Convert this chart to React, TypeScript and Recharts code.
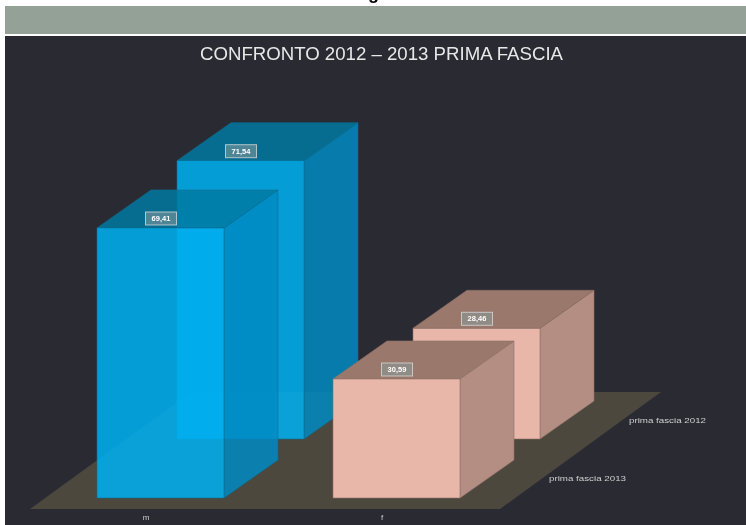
import { BarChart, Bar, XAxis, YAxis, Customized } from 'recharts'

const categories = ['m', 'f']
const values2012 = [71.54, 28.46]
const values2013 = [69.41, 30.59]
const seriesNames = ['prima fascia 2012', 'prima fascia 2013']

const chartData = categories.map((c, i) => ({ cat: c, y2012: values2012[i], y2013: values2013[i] }))

const DEPTH_X = 54
const DEPTH_Y = -38

const palette = [
  { front: '#00afef', frontOpacity: 0.87, side: '#008ac2', sideOpacity: 0.85, top: '#007aa2', topOpacity: 0.84, stroke: '#0a6f92' },
  { front: '#e9b6aa', frontOpacity: 1, side: '#b48e83', sideOpacity: 1, top: '#9a786c', topOpacity: 1, stroke: '#8d7268' },
]

const fmt = (v: number) => v.toFixed(2).replace('.', ',')

function Cube(props: any) {
  const { x, y, width, height, index, value, dx, dy } = props
  const c = palette[index]
  const l = x + dx
  const t = y + dy
  const r = l + width
  const b = t + height
  const v = Array.isArray(value) ? value[1] : value
  return (
    <g>
      <polygon points={`${r},${t} ${r + DEPTH_X},${t + DEPTH_Y} ${r + DEPTH_X},${b + DEPTH_Y} ${r},${b}`}
        fill={c.side} fillOpacity={c.sideOpacity} stroke={c.stroke} strokeWidth={0.6} />
      <polygon points={`${l},${t} ${l + DEPTH_X},${t + DEPTH_Y} ${r + DEPTH_X},${t + DEPTH_Y} ${r},${t}`}
        fill={c.top} fillOpacity={c.topOpacity} stroke={c.stroke} strokeWidth={0.6} />
      <rect x={l} y={t} width={width} height={height} fill={c.front} fillOpacity={c.frontOpacity}
        stroke={c.stroke} strokeWidth={0.6} />
      <rect x={l + width / 2 - 15} y={t - 16} width={31} height={13} fill="#8a9a9c" fillOpacity={0.55}
        stroke="#d5dadb" strokeOpacity={0.8} />
      <text x={l + width / 2 + 0.5} y={t - 7} textAnchor="middle" fontSize={7.5} fontWeight="bold"
        fontFamily="Liberation Sans" fill="#ffffff">{fmt(v)}</text>
    </g>
  )
}

function Floor() {
  return (
    <g>
      <polygon points="30,509 500,509 661,392 191,392" fill="#4c483e" />
      <text x={629} y={423} fontSize={8} textLength={77} lengthAdjust="spacingAndGlyphs"
        fontFamily="Liberation Sans" fill="#cfcfcf">{seriesNames[0]}</text>
      <text x={549} y={481} fontSize={8} textLength={77} lengthAdjust="spacingAndGlyphs"
        fontFamily="Liberation Sans" fill="#cfcfcf">{seriesNames[1]}</text>
    </g>
  )
}

export default function App() {
  return (
    <div style={{ position: 'absolute', left: 0, top: 0, width: 746, height: 525, background: '#fff', overflow: 'hidden', filter: 'blur(0.4px)' }}>
      <div style={{ position: 'absolute', left: 5, top: 6, width: 741, height: 28, background: '#93a197' }} />
      <div style={{ position: 'absolute', left: 5, top: 36, width: 741, height: 489, background: '#2a2a33' }} />
      <div style={{ position: 'absolute', left: 368, top: -17, fontFamily: 'Liberation Sans', fontWeight: 'bold', fontSize: 18, color: '#000' }}>g</div>
      <div style={{ position: 'absolute', left: 0, top: 0 }}>
        <BarChart width={746} height={525} data={chartData} barSize={127} barGap={-127}
          margin={{ top: 109, right: 232, bottom: 0, left: 42 }}>
          <text x={200} y={60} fontSize={18} textLength={363} lengthAdjust="spacingAndGlyphs"
            fontFamily="Liberation Sans" fill="#e8e8e8">
            CONFRONTO 2012 – 2013 PRIMA FASCIA
          </text>
          <Customized component={Floor} />
          <XAxis dataKey="cat" axisLine={false} tickLine={false} interval={0} height={27}
            tick={{ fontSize: 8, fill: '#cfcfcf', fontFamily: 'Liberation Sans', dx: -14, dy: 8 }} />
          <YAxis hide domain={[0, 100]} />
          <Bar dataKey="y2012" name={seriesNames[0]} isAnimationActive={false}
            shape={(p: any) => <Cube {...p} dx={80} dy={-59} />} />
          <Bar dataKey="y2013" name={seriesNames[1]} isAnimationActive={false}
            shape={(p: any) => <Cube {...p} dx={0} dy={0} />} />
        </BarChart>
      </div>
    </div>
  )
}
